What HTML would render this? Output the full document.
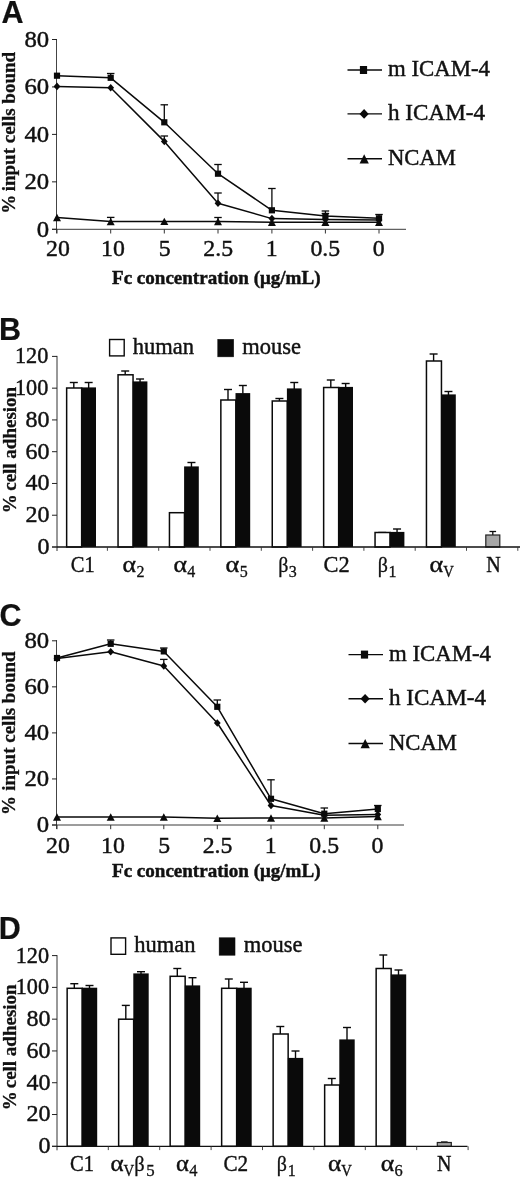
<!DOCTYPE html>
<html lang="en">
<head>
<meta charset="utf-8">
<title>Figure</title>
<style>
html,body{margin:0;padding:0;background:#fff;}
body{width:520px;height:1180px;overflow:hidden;}
svg{display:block;}
text{fill:#111;stroke:#111;stroke-width:0.45px;}
</style>
</head>
<body>
<svg width="520" height="1180" viewBox="0 0 520 1180">
<rect x="0" y="0" width="520" height="1180" fill="#fff"/>
<text x="1.5" y="23" font-size="30.5" text-anchor="start" font-weight="bold" font-family='"Liberation Sans", sans-serif' style="stroke-width:0.2px">A</text>
<line x1="56.5" y1="39.0" x2="56.5" y2="233.3" stroke="#444" stroke-width="1.0" />
<line x1="52" y1="229.3" x2="406" y2="229.3" stroke="#3a3a3a" stroke-width="1.0" />
<line x1="52" y1="39.5" x2="57" y2="39.5" stroke="#222" stroke-width="1.0" />
<text transform="translate(49.2,46.7) scale(1.04,1)" x="0" y="0" font-size="23.8" text-anchor="end" font-weight="normal" font-family='"Liberation Serif", serif' >80</text>
<line x1="52" y1="86.95" x2="57" y2="86.95" stroke="#222" stroke-width="1.0" />
<text transform="translate(49.2,94.2) scale(1.04,1)" x="0" y="0" font-size="23.8" text-anchor="end" font-weight="normal" font-family='"Liberation Serif", serif' >60</text>
<line x1="52" y1="134.4" x2="57" y2="134.4" stroke="#222" stroke-width="1.0" />
<text transform="translate(49.2,141.6) scale(1.04,1)" x="0" y="0" font-size="23.8" text-anchor="end" font-weight="normal" font-family='"Liberation Serif", serif' >40</text>
<line x1="52" y1="181.85000000000002" x2="57" y2="181.85000000000002" stroke="#222" stroke-width="1.0" />
<text transform="translate(49.2,189.1) scale(1.04,1)" x="0" y="0" font-size="23.8" text-anchor="end" font-weight="normal" font-family='"Liberation Serif", serif' >20</text>
<line x1="52" y1="229.3" x2="57" y2="229.3" stroke="#222" stroke-width="1.0" />
<text transform="translate(49.2,236.5) scale(1.04,1)" x="0" y="0" font-size="23.8" text-anchor="end" font-weight="normal" font-family='"Liberation Serif", serif' >0</text>
<line x1="57" y1="229.3" x2="57" y2="233.5" stroke="#333" stroke-width="1.0" />
<text x="57.9" y="255.6" font-size="23.8" text-anchor="middle" font-weight="normal" font-family='"Liberation Serif", serif' >20</text>
<line x1="110.7" y1="229.3" x2="110.7" y2="233.5" stroke="#333" stroke-width="1.0" />
<text x="112.9" y="255.6" font-size="23.8" text-anchor="middle" font-weight="normal" font-family='"Liberation Serif", serif' >10</text>
<line x1="164.3" y1="229.3" x2="164.3" y2="233.5" stroke="#333" stroke-width="1.0" />
<text x="164.7" y="255.6" font-size="23.8" text-anchor="middle" font-weight="normal" font-family='"Liberation Serif", serif' >5</text>
<line x1="218" y1="229.3" x2="218" y2="233.5" stroke="#333" stroke-width="1.0" />
<text x="218.2" y="255.6" font-size="23.8" text-anchor="middle" font-weight="normal" font-family='"Liberation Serif", serif' >2.5</text>
<line x1="271.9" y1="229.3" x2="271.9" y2="233.5" stroke="#333" stroke-width="1.0" />
<text x="271.7" y="255.6" font-size="23.8" text-anchor="middle" font-weight="normal" font-family='"Liberation Serif", serif' >1</text>
<line x1="325.4" y1="229.3" x2="325.4" y2="233.5" stroke="#333" stroke-width="1.0" />
<text x="325.3" y="255.6" font-size="23.8" text-anchor="middle" font-weight="normal" font-family='"Liberation Serif", serif' >0.5</text>
<line x1="379" y1="229.3" x2="379" y2="233.5" stroke="#333" stroke-width="1.0" />
<text x="378.6" y="255.6" font-size="23.8" text-anchor="middle" font-weight="normal" font-family='"Liberation Serif", serif' >0</text>
<text x="112" y="284" font-size="19" text-anchor="start" font-weight="bold" font-family='"Liberation Serif", serif' textLength="208.5" lengthAdjust="spacingAndGlyphs" >Fc concentration (μg/mL)</text>
<text transform="translate(15.0,213.8) rotate(-90)" font-size="19" font-weight="bold" font-family='"Liberation Serif", serif' style="stroke-width:0.3px" x="0" y="0">%</text>
<text transform="translate(15.0,191.3) rotate(-90)" font-size="19" font-weight="bold" font-family='"Liberation Serif", serif' style="stroke-width:0.3px" x="0" y="0">input cells bound</text>
<line x1="110.7" y1="77.8" x2="110.7" y2="73.5" stroke="#0a0a0a" stroke-width="1.3" />
<line x1="106.95" y1="73.5" x2="114.45" y2="73.5" stroke="#0a0a0a" stroke-width="1.3" />
<line x1="164.3" y1="122.3" x2="164.3" y2="104.8" stroke="#0a0a0a" stroke-width="1.3" />
<line x1="160.55" y1="104.8" x2="168.05" y2="104.8" stroke="#0a0a0a" stroke-width="1.3" />
<line x1="218" y1="173.7" x2="218" y2="164.5" stroke="#0a0a0a" stroke-width="1.3" />
<line x1="214.25" y1="164.5" x2="221.75" y2="164.5" stroke="#0a0a0a" stroke-width="1.3" />
<line x1="271.9" y1="210.3" x2="271.9" y2="188.5" stroke="#0a0a0a" stroke-width="1.3" />
<line x1="268.15" y1="188.5" x2="275.65" y2="188.5" stroke="#0a0a0a" stroke-width="1.3" />
<line x1="325.4" y1="216" x2="325.4" y2="211" stroke="#0a0a0a" stroke-width="1.3" />
<line x1="321.65" y1="211" x2="329.15" y2="211" stroke="#0a0a0a" stroke-width="1.3" />
<line x1="379" y1="218" x2="379" y2="214.5" stroke="#0a0a0a" stroke-width="1.3" />
<line x1="375.25" y1="214.5" x2="382.75" y2="214.5" stroke="#0a0a0a" stroke-width="1.3" />
<line x1="164.3" y1="141.4" x2="164.3" y2="136" stroke="#0a0a0a" stroke-width="1.3" />
<line x1="160.55" y1="136" x2="168.05" y2="136" stroke="#0a0a0a" stroke-width="1.3" />
<line x1="218" y1="203.2" x2="218" y2="193" stroke="#0a0a0a" stroke-width="1.3" />
<line x1="214.25" y1="193" x2="221.75" y2="193" stroke="#0a0a0a" stroke-width="1.3" />
<line x1="110.7" y1="221.6" x2="110.7" y2="217.4" stroke="#0a0a0a" stroke-width="1.3" />
<line x1="106.95" y1="217.4" x2="114.45" y2="217.4" stroke="#0a0a0a" stroke-width="1.3" />
<line x1="218" y1="221.5" x2="218" y2="217.5" stroke="#0a0a0a" stroke-width="1.3" />
<line x1="214.25" y1="217.5" x2="221.75" y2="217.5" stroke="#0a0a0a" stroke-width="1.3" />
<line x1="325.4" y1="219.5" x2="325.4" y2="213.5" stroke="#0a0a0a" stroke-width="1.3" />
<line x1="321.65" y1="213.5" x2="329.15" y2="213.5" stroke="#0a0a0a" stroke-width="1.3" />
<polyline points="57.00,75.70 110.70,77.80 164.30,122.30 218.00,173.70 271.90,210.30 325.40,216.00 379.00,218.30" fill="none" stroke="#0a0a0a" stroke-width="1.5" stroke-linejoin="round"/>
<polyline points="57.00,86.40 110.70,87.80 164.30,141.40 218.00,203.20 271.90,218.60 325.40,219.50 379.00,220.00" fill="none" stroke="#0a0a0a" stroke-width="1.5" stroke-linejoin="round"/>
<polyline points="57.00,217.50 110.70,221.60 164.30,221.40 218.00,221.50 271.90,222.30 325.40,222.30 379.00,222.30" fill="none" stroke="#0a0a0a" stroke-width="1.5" stroke-linejoin="round"/>
<rect x="53.90" y="72.60" width="6.2" height="6.2" fill="#0a0a0a"/>
<rect x="107.60" y="74.70" width="6.2" height="6.2" fill="#0a0a0a"/>
<rect x="161.20" y="119.20" width="6.2" height="6.2" fill="#0a0a0a"/>
<rect x="214.90" y="170.60" width="6.2" height="6.2" fill="#0a0a0a"/>
<rect x="268.80" y="207.20" width="6.2" height="6.2" fill="#0a0a0a"/>
<rect x="322.30" y="212.90" width="6.2" height="6.2" fill="#0a0a0a"/>
<rect x="375.90" y="215.20" width="6.2" height="6.2" fill="#0a0a0a"/>
<polygon points="57.00,82.60 60.40,86.40 57.00,90.20 53.60,86.40" fill="#0a0a0a"/>
<polygon points="110.70,84.00 114.10,87.80 110.70,91.60 107.30,87.80" fill="#0a0a0a"/>
<polygon points="164.30,137.60 167.70,141.40 164.30,145.20 160.90,141.40" fill="#0a0a0a"/>
<polygon points="218.00,199.40 221.40,203.20 218.00,207.00 214.60,203.20" fill="#0a0a0a"/>
<polygon points="271.90,214.80 275.30,218.60 271.90,222.40 268.50,218.60" fill="#0a0a0a"/>
<polygon points="325.40,215.70 328.80,219.50 325.40,223.30 322.00,219.50" fill="#0a0a0a"/>
<polygon points="379.00,216.20 382.40,220.00 379.00,223.80 375.60,220.00" fill="#0a0a0a"/>
<polygon points="57.00,213.80 61.00,221.20 53.00,221.20" fill="#0a0a0a"/>
<polygon points="110.70,217.90 114.70,225.30 106.70,225.30" fill="#0a0a0a"/>
<polygon points="164.30,217.70 168.30,225.10 160.30,225.10" fill="#0a0a0a"/>
<polygon points="218.00,217.80 222.00,225.20 214.00,225.20" fill="#0a0a0a"/>
<polygon points="271.90,218.60 275.90,226.00 267.90,226.00" fill="#0a0a0a"/>
<polygon points="325.40,218.60 329.40,226.00 321.40,226.00" fill="#0a0a0a"/>
<polygon points="379.00,218.60 383.00,226.00 375.00,226.00" fill="#0a0a0a"/>
<line x1="347.5" y1="70" x2="382" y2="70" stroke="#0a0a0a" stroke-width="1.4" />
<rect x="359.90" y="66.00" width="7.2" height="8" fill="#0a0a0a"/>
<text x="388" y="76.1" font-size="22.5" text-anchor="start" font-weight="normal" font-family='"Liberation Serif", serif' textLength="102" lengthAdjust="spacingAndGlyphs" >m ICAM-4</text>
<line x1="347.5" y1="113.9" x2="382" y2="113.9" stroke="#0a0a0a" stroke-width="1.4" />
<polygon points="364.10,109.10 368.70,113.90 364.10,118.70 359.50,113.90" fill="#0a0a0a"/>
<text x="388" y="120.0" font-size="22.5" text-anchor="start" font-weight="normal" font-family='"Liberation Serif", serif' textLength="97" lengthAdjust="spacingAndGlyphs" >h ICAM-4</text>
<line x1="347.5" y1="158.7" x2="382" y2="158.7" stroke="#0a0a0a" stroke-width="1.4" />
<polygon points="364.20,154.30 368.80,163.50 359.60,163.50" fill="#0a0a0a"/>
<text x="388" y="164.8" font-size="22.5" text-anchor="start" font-weight="normal" font-family='"Liberation Serif", serif' textLength="68" lengthAdjust="spacingAndGlyphs" >NCAM</text>
<text x="-0.5" y="626.3" font-size="30.5" text-anchor="start" font-weight="bold" font-family='"Liberation Sans", sans-serif' style="stroke-width:0.2px">C</text>
<line x1="56.5" y1="640.3" x2="56.5" y2="829" stroke="#444" stroke-width="1.0" />
<line x1="52" y1="825" x2="404" y2="825" stroke="#3a3a3a" stroke-width="1.0" />
<line x1="52" y1="640.8" x2="57" y2="640.8" stroke="#222" stroke-width="1.0" />
<text transform="translate(49.2,648.0) scale(1.04,1)" x="0" y="0" font-size="23.8" text-anchor="end" font-weight="normal" font-family='"Liberation Serif", serif' >80</text>
<line x1="52" y1="686.8499999999999" x2="57" y2="686.8499999999999" stroke="#222" stroke-width="1.0" />
<text transform="translate(49.2,694.0) scale(1.04,1)" x="0" y="0" font-size="23.8" text-anchor="end" font-weight="normal" font-family='"Liberation Serif", serif' >60</text>
<line x1="52" y1="732.9" x2="57" y2="732.9" stroke="#222" stroke-width="1.0" />
<text transform="translate(49.2,740.1) scale(1.04,1)" x="0" y="0" font-size="23.8" text-anchor="end" font-weight="normal" font-family='"Liberation Serif", serif' >40</text>
<line x1="52" y1="778.95" x2="57" y2="778.95" stroke="#222" stroke-width="1.0" />
<text transform="translate(49.2,786.2) scale(1.04,1)" x="0" y="0" font-size="23.8" text-anchor="end" font-weight="normal" font-family='"Liberation Serif", serif' >20</text>
<line x1="52" y1="825.0" x2="57" y2="825.0" stroke="#222" stroke-width="1.0" />
<text transform="translate(49.2,832.2) scale(1.04,1)" x="0" y="0" font-size="23.8" text-anchor="end" font-weight="normal" font-family='"Liberation Serif", serif' >0</text>
<line x1="57" y1="825" x2="57" y2="829.2" stroke="#333" stroke-width="1.0" />
<text x="57.9" y="853.4" font-size="23.8" text-anchor="middle" font-weight="normal" font-family='"Liberation Serif", serif' >20</text>
<line x1="110.7" y1="825" x2="110.7" y2="829.2" stroke="#333" stroke-width="1.0" />
<text x="112.9" y="853.4" font-size="23.8" text-anchor="middle" font-weight="normal" font-family='"Liberation Serif", serif' >10</text>
<line x1="163.8" y1="825" x2="163.8" y2="829.2" stroke="#333" stroke-width="1.0" />
<text x="164.2" y="853.4" font-size="23.8" text-anchor="middle" font-weight="normal" font-family='"Liberation Serif", serif' >5</text>
<line x1="217.3" y1="825" x2="217.3" y2="829.2" stroke="#333" stroke-width="1.0" />
<text x="217.5" y="853.4" font-size="23.8" text-anchor="middle" font-weight="normal" font-family='"Liberation Serif", serif' >2.5</text>
<line x1="271" y1="825" x2="271" y2="829.2" stroke="#333" stroke-width="1.0" />
<text x="270.8" y="853.4" font-size="23.8" text-anchor="middle" font-weight="normal" font-family='"Liberation Serif", serif' >1</text>
<line x1="324.3" y1="825" x2="324.3" y2="829.2" stroke="#333" stroke-width="1.0" />
<text x="324.2" y="853.4" font-size="23.8" text-anchor="middle" font-weight="normal" font-family='"Liberation Serif", serif' >0.5</text>
<line x1="377.8" y1="825" x2="377.8" y2="829.2" stroke="#333" stroke-width="1.0" />
<text x="377.4" y="853.4" font-size="23.8" text-anchor="middle" font-weight="normal" font-family='"Liberation Serif", serif' >0</text>
<text x="112" y="877" font-size="19" text-anchor="start" font-weight="bold" font-family='"Liberation Serif", serif' textLength="208.5" lengthAdjust="spacingAndGlyphs" >Fc concentration (μg/mL)</text>
<text transform="translate(15.1,815) rotate(-90)" font-size="19" font-weight="bold" font-family='"Liberation Serif", serif' style="stroke-width:0.3px" x="0" y="0">%</text>
<text transform="translate(15.1,790.8) rotate(-90)" font-size="19" font-weight="bold" font-family='"Liberation Serif", serif' style="stroke-width:0.3px" x="0" y="0">input cells bound</text>
<line x1="110.7" y1="643.8" x2="110.7" y2="640" stroke="#0a0a0a" stroke-width="1.3" />
<line x1="106.95" y1="640" x2="114.45" y2="640" stroke="#0a0a0a" stroke-width="1.3" />
<line x1="163.8" y1="651.4" x2="163.8" y2="648" stroke="#0a0a0a" stroke-width="1.3" />
<line x1="160.05" y1="648" x2="167.55" y2="648" stroke="#0a0a0a" stroke-width="1.3" />
<line x1="163.8" y1="666" x2="163.8" y2="659.4" stroke="#0a0a0a" stroke-width="1.3" />
<line x1="160.05" y1="659.4" x2="167.55" y2="659.4" stroke="#0a0a0a" stroke-width="1.3" />
<line x1="217.3" y1="706.8" x2="217.3" y2="700" stroke="#0a0a0a" stroke-width="1.3" />
<line x1="213.55" y1="700" x2="221.05" y2="700" stroke="#0a0a0a" stroke-width="1.3" />
<line x1="271" y1="798.8" x2="271" y2="779.8" stroke="#0a0a0a" stroke-width="1.3" />
<line x1="267.25" y1="779.8" x2="274.75" y2="779.8" stroke="#0a0a0a" stroke-width="1.3" />
<line x1="324.3" y1="813.7" x2="324.3" y2="808" stroke="#0a0a0a" stroke-width="1.3" />
<line x1="320.55" y1="808" x2="328.05" y2="808" stroke="#0a0a0a" stroke-width="1.3" />
<line x1="377.8" y1="809" x2="377.8" y2="805.5" stroke="#0a0a0a" stroke-width="1.3" />
<line x1="374.05" y1="805.5" x2="381.55" y2="805.5" stroke="#0a0a0a" stroke-width="1.3" />
<polyline points="57.00,658.00 110.70,643.80 163.80,651.40 217.30,706.80 271.00,798.80 324.30,813.70 377.80,809.00" fill="none" stroke="#0a0a0a" stroke-width="1.5" stroke-linejoin="round"/>
<polyline points="57.00,658.50 110.70,651.80 163.80,666.00 217.30,723.00 271.00,805.50 324.30,815.30 377.80,814.40" fill="none" stroke="#0a0a0a" stroke-width="1.5" stroke-linejoin="round"/>
<polyline points="57.00,817.00 110.70,817.00 163.80,817.00 217.30,818.30 271.00,818.00 324.30,818.00 377.80,816.50" fill="none" stroke="#0a0a0a" stroke-width="1.5" stroke-linejoin="round"/>
<rect x="53.90" y="654.90" width="6.2" height="6.2" fill="#0a0a0a"/>
<rect x="107.60" y="640.70" width="6.2" height="6.2" fill="#0a0a0a"/>
<rect x="160.70" y="648.30" width="6.2" height="6.2" fill="#0a0a0a"/>
<rect x="214.20" y="703.70" width="6.2" height="6.2" fill="#0a0a0a"/>
<rect x="267.90" y="795.70" width="6.2" height="6.2" fill="#0a0a0a"/>
<rect x="321.20" y="810.60" width="6.2" height="6.2" fill="#0a0a0a"/>
<rect x="374.70" y="805.90" width="6.2" height="6.2" fill="#0a0a0a"/>
<polygon points="57.00,654.70 60.40,658.50 57.00,662.30 53.60,658.50" fill="#0a0a0a"/>
<polygon points="110.70,648.00 114.10,651.80 110.70,655.60 107.30,651.80" fill="#0a0a0a"/>
<polygon points="163.80,662.20 167.20,666.00 163.80,669.80 160.40,666.00" fill="#0a0a0a"/>
<polygon points="217.30,719.20 220.70,723.00 217.30,726.80 213.90,723.00" fill="#0a0a0a"/>
<polygon points="271.00,801.70 274.40,805.50 271.00,809.30 267.60,805.50" fill="#0a0a0a"/>
<polygon points="324.30,811.50 327.70,815.30 324.30,819.10 320.90,815.30" fill="#0a0a0a"/>
<polygon points="377.80,810.60 381.20,814.40 377.80,818.20 374.40,814.40" fill="#0a0a0a"/>
<polygon points="57.00,813.30 61.00,820.70 53.00,820.70" fill="#0a0a0a"/>
<polygon points="110.70,813.30 114.70,820.70 106.70,820.70" fill="#0a0a0a"/>
<polygon points="163.80,813.30 167.80,820.70 159.80,820.70" fill="#0a0a0a"/>
<polygon points="217.30,814.60 221.30,822.00 213.30,822.00" fill="#0a0a0a"/>
<polygon points="271.00,814.30 275.00,821.70 267.00,821.70" fill="#0a0a0a"/>
<polygon points="324.30,814.30 328.30,821.70 320.30,821.70" fill="#0a0a0a"/>
<polygon points="377.80,812.80 381.80,820.20 373.80,820.20" fill="#0a0a0a"/>
<line x1="348.5" y1="654.6" x2="383" y2="654.6" stroke="#0a0a0a" stroke-width="1.4" />
<rect x="360.90" y="650.60" width="7.2" height="8" fill="#0a0a0a"/>
<text x="389" y="660.7" font-size="22.5" text-anchor="start" font-weight="normal" font-family='"Liberation Serif", serif' textLength="102" lengthAdjust="spacingAndGlyphs" >m ICAM-4</text>
<line x1="348.5" y1="698.7" x2="383" y2="698.7" stroke="#0a0a0a" stroke-width="1.4" />
<polygon points="365.10,693.90 369.70,698.70 365.10,703.50 360.50,698.70" fill="#0a0a0a"/>
<text x="389" y="704.8" font-size="22.5" text-anchor="start" font-weight="normal" font-family='"Liberation Serif", serif' textLength="97" lengthAdjust="spacingAndGlyphs" >h ICAM-4</text>
<line x1="348.5" y1="743.5" x2="383" y2="743.5" stroke="#0a0a0a" stroke-width="1.4" />
<polygon points="365.20,739.10 369.80,748.30 360.60,748.30" fill="#0a0a0a"/>
<text x="389" y="749.6" font-size="22.5" text-anchor="start" font-weight="normal" font-family='"Liberation Serif", serif' textLength="68" lengthAdjust="spacingAndGlyphs" >NCAM</text>
<text x="-1" y="339.6" font-size="30.5" text-anchor="start" font-weight="bold" font-family='"Liberation Sans", sans-serif' style="stroke-width:0.2px">B</text>
<line x1="73.8" y1="388" x2="73.8" y2="382.5" stroke="#0a0a0a" stroke-width="1.4" />
<line x1="69.8" y1="382.5" x2="77.8" y2="382.5" stroke="#0a0a0a" stroke-width="1.4" />
<line x1="88.64999999999999" y1="388" x2="88.64999999999999" y2="382.5" stroke="#0a0a0a" stroke-width="1.4" />
<line x1="84.64999999999999" y1="382.5" x2="92.64999999999999" y2="382.5" stroke="#0a0a0a" stroke-width="1.4" />
<rect x="66.64999999999999" y="388" width="15" height="159.0" fill="#fff" stroke="#0a0a0a" stroke-width="1.5"/>
<rect x="81.30" y="387.40" width="14.7" height="159.60" fill="#0a0a0a"/>
<line x1="125.19999999999999" y1="374.8" x2="125.19999999999999" y2="371" stroke="#0a0a0a" stroke-width="1.4" />
<line x1="121.19999999999999" y1="371" x2="129.2" y2="371" stroke="#0a0a0a" stroke-width="1.4" />
<line x1="140.04999999999998" y1="382" x2="140.04999999999998" y2="379" stroke="#0a0a0a" stroke-width="1.4" />
<line x1="136.04999999999998" y1="379" x2="144.04999999999998" y2="379" stroke="#0a0a0a" stroke-width="1.4" />
<rect x="118.04999999999998" y="374.8" width="15" height="172.2" fill="#fff" stroke="#0a0a0a" stroke-width="1.5"/>
<rect x="132.70" y="381.40" width="14.7" height="165.60" fill="#0a0a0a"/>
<line x1="176.6" y1="512.7" x2="176.6" y2="512.7" stroke="#0a0a0a" stroke-width="1.4" />
<line x1="172.6" y1="512.7" x2="180.6" y2="512.7" stroke="#0a0a0a" stroke-width="1.4" />
<line x1="191.45" y1="467" x2="191.45" y2="462.5" stroke="#0a0a0a" stroke-width="1.4" />
<line x1="187.45" y1="462.5" x2="195.45" y2="462.5" stroke="#0a0a0a" stroke-width="1.4" />
<rect x="169.45" y="512.7" width="15" height="34.299999999999955" fill="#fff" stroke="#0a0a0a" stroke-width="1.5"/>
<rect x="184.10" y="466.40" width="14.7" height="80.60" fill="#0a0a0a"/>
<line x1="228.0" y1="400" x2="228.0" y2="389.5" stroke="#0a0a0a" stroke-width="1.4" />
<line x1="224.0" y1="389.5" x2="232.0" y2="389.5" stroke="#0a0a0a" stroke-width="1.4" />
<line x1="242.85" y1="393.7" x2="242.85" y2="385.5" stroke="#0a0a0a" stroke-width="1.4" />
<line x1="238.85" y1="385.5" x2="246.85" y2="385.5" stroke="#0a0a0a" stroke-width="1.4" />
<rect x="220.85" y="400" width="15" height="147.0" fill="#fff" stroke="#0a0a0a" stroke-width="1.5"/>
<rect x="235.50" y="393.10" width="14.7" height="153.90" fill="#0a0a0a"/>
<line x1="279.4" y1="401" x2="279.4" y2="398.5" stroke="#0a0a0a" stroke-width="1.4" />
<line x1="275.4" y1="398.5" x2="283.4" y2="398.5" stroke="#0a0a0a" stroke-width="1.4" />
<line x1="294.25" y1="389" x2="294.25" y2="382.5" stroke="#0a0a0a" stroke-width="1.4" />
<line x1="290.25" y1="382.5" x2="298.25" y2="382.5" stroke="#0a0a0a" stroke-width="1.4" />
<rect x="272.25" y="401" width="15" height="146.0" fill="#fff" stroke="#0a0a0a" stroke-width="1.5"/>
<rect x="286.90" y="388.40" width="14.7" height="158.60" fill="#0a0a0a"/>
<line x1="330.8" y1="387.5" x2="330.8" y2="380" stroke="#0a0a0a" stroke-width="1.4" />
<line x1="326.8" y1="380" x2="334.8" y2="380" stroke="#0a0a0a" stroke-width="1.4" />
<line x1="345.65000000000003" y1="387.5" x2="345.65000000000003" y2="383.5" stroke="#0a0a0a" stroke-width="1.4" />
<line x1="341.65000000000003" y1="383.5" x2="349.65000000000003" y2="383.5" stroke="#0a0a0a" stroke-width="1.4" />
<rect x="323.65000000000003" y="387.5" width="15" height="159.5" fill="#fff" stroke="#0a0a0a" stroke-width="1.5"/>
<rect x="338.30" y="386.90" width="14.7" height="160.10" fill="#0a0a0a"/>
<line x1="382.2" y1="532.5" x2="382.2" y2="532.5" stroke="#0a0a0a" stroke-width="1.4" />
<line x1="378.2" y1="532.5" x2="386.2" y2="532.5" stroke="#0a0a0a" stroke-width="1.4" />
<line x1="397.05" y1="532.5" x2="397.05" y2="529" stroke="#0a0a0a" stroke-width="1.4" />
<line x1="393.05" y1="529" x2="401.05" y2="529" stroke="#0a0a0a" stroke-width="1.4" />
<rect x="375.05" y="532.5" width="15" height="14.5" fill="#fff" stroke="#0a0a0a" stroke-width="1.5"/>
<rect x="389.70" y="531.90" width="14.7" height="15.10" fill="#0a0a0a"/>
<line x1="433.6" y1="361" x2="433.6" y2="354" stroke="#0a0a0a" stroke-width="1.4" />
<line x1="429.6" y1="354" x2="437.6" y2="354" stroke="#0a0a0a" stroke-width="1.4" />
<line x1="448.45000000000005" y1="395" x2="448.45000000000005" y2="391.5" stroke="#0a0a0a" stroke-width="1.4" />
<line x1="444.45000000000005" y1="391.5" x2="452.45000000000005" y2="391.5" stroke="#0a0a0a" stroke-width="1.4" />
<rect x="426.45000000000005" y="361" width="15" height="186.0" fill="#fff" stroke="#0a0a0a" stroke-width="1.5"/>
<rect x="441.10" y="394.40" width="14.7" height="152.60" fill="#0a0a0a"/>
<line x1="492.8" y1="535" x2="492.8" y2="531.5" stroke="#0a0a0a" stroke-width="1.3" />
<line x1="489.5" y1="531.5" x2="496.1" y2="531.5" stroke="#0a0a0a" stroke-width="1.3" />
<rect x="485.8" y="535" width="14.0" height="12.0" fill="#a6a6a6" stroke="#222" stroke-width="1.2"/>
<line x1="57" y1="355.9" x2="57" y2="551.0" stroke="#333" stroke-width="1.0" />
<line x1="52" y1="547.0" x2="57" y2="547.0" stroke="#222" stroke-width="1.0" />
<line x1="57" y1="547.0" x2="520" y2="547.0" stroke="#111" stroke-width="1.3" />
<line x1="52" y1="356.4" x2="57" y2="356.4" stroke="#222" stroke-width="1.0" />
<text transform="translate(48.300000000000004,363.3) scale(0.935,1)" x="0" y="0" font-size="23.8" text-anchor="end" font-weight="normal" font-family='"Liberation Serif", serif' >120</text>
<line x1="52" y1="388.16666666666663" x2="57" y2="388.16666666666663" stroke="#222" stroke-width="1.0" />
<text transform="translate(48.300000000000004,395.1) scale(0.935,1)" x="0" y="0" font-size="23.8" text-anchor="end" font-weight="normal" font-family='"Liberation Serif", serif' >100</text>
<line x1="52" y1="419.93333333333334" x2="57" y2="419.93333333333334" stroke="#222" stroke-width="1.0" />
<text transform="translate(49.6,426.8) scale(1.01,1)" x="0" y="0" font-size="23.8" text-anchor="end" font-weight="normal" font-family='"Liberation Serif", serif' >80</text>
<line x1="52" y1="451.7" x2="57" y2="451.7" stroke="#222" stroke-width="1.0" />
<text transform="translate(49.6,458.6) scale(1.01,1)" x="0" y="0" font-size="23.8" text-anchor="end" font-weight="normal" font-family='"Liberation Serif", serif' >60</text>
<line x1="52" y1="483.46666666666664" x2="57" y2="483.46666666666664" stroke="#222" stroke-width="1.0" />
<text transform="translate(49.6,490.4) scale(1.01,1)" x="0" y="0" font-size="23.8" text-anchor="end" font-weight="normal" font-family='"Liberation Serif", serif' >40</text>
<line x1="52" y1="515.2333333333333" x2="57" y2="515.2333333333333" stroke="#222" stroke-width="1.0" />
<text transform="translate(49.6,522.1) scale(1.01,1)" x="0" y="0" font-size="23.8" text-anchor="end" font-weight="normal" font-family='"Liberation Serif", serif' >20</text>
<line x1="52" y1="547.0" x2="57" y2="547.0" stroke="#222" stroke-width="1.0" />
<text transform="translate(49.6,553.9) scale(1.01,1)" x="0" y="0" font-size="23.8" text-anchor="end" font-weight="normal" font-family='"Liberation Serif", serif' >0</text>
<line x1="107.4" y1="547.0" x2="107.4" y2="550.8" stroke="#333" stroke-width="0.9" />
<line x1="158.7" y1="547.0" x2="158.7" y2="550.8" stroke="#333" stroke-width="0.9" />
<line x1="209.99999999999997" y1="547.0" x2="209.99999999999997" y2="550.8" stroke="#333" stroke-width="0.9" />
<line x1="261.3" y1="547.0" x2="261.3" y2="550.8" stroke="#333" stroke-width="0.9" />
<line x1="312.6" y1="547.0" x2="312.6" y2="550.8" stroke="#333" stroke-width="0.9" />
<line x1="363.9" y1="547.0" x2="363.9" y2="550.8" stroke="#333" stroke-width="0.9" />
<line x1="415.2" y1="547.0" x2="415.2" y2="550.8" stroke="#333" stroke-width="0.9" />
<line x1="466.5" y1="547.0" x2="466.5" y2="550.8" stroke="#333" stroke-width="0.9" />
<line x1="517.8" y1="547.0" x2="517.8" y2="550.8" stroke="#333" stroke-width="0.9" />
<text transform="translate(15.8,513.2) rotate(-90)" font-size="19" font-weight="bold" font-family='"Liberation Serif", serif' style="stroke-width:0.3px" x="0" y="0">%</text>
<text transform="translate(15.8,490.8) rotate(-90)" font-size="19" font-weight="bold" font-family='"Liberation Serif", serif' style="stroke-width:0.3px" x="0" y="0">cell adhesion</text>
<rect x="109.6" y="339.5" width="14.6" height="16.4" fill="#fff" stroke="#0a0a0a" stroke-width="1.4"/>
<text x="132.8" y="353.6" font-size="23.5" text-anchor="start" font-weight="normal" font-family='"Liberation Serif", serif' textLength="61.3" lengthAdjust="spacingAndGlyphs" >human</text>
<rect x="217.8" y="339.4" width="15.8" height="17.4" fill="#0a0a0a" stroke="#0a0a0a" stroke-width="0.6"/>
<text x="242.3" y="353.6" font-size="23.5" text-anchor="start" font-weight="normal" font-family='"Liberation Serif", serif' textLength="58.7" lengthAdjust="spacingAndGlyphs" >mouse</text>
<text x="70.8" y="571.5" font-size="23.2" font-family='"Liberation Serif", serif' style="stroke-width:0.4px" textLength="24.0" lengthAdjust="spacingAndGlyphs">C1</text>
<text x="122.5" y="571.5" font-size="23" font-family='"Liberation Serif", serif' style="stroke-width:0.4px" textLength="13.5" lengthAdjust="spacingAndGlyphs">α</text>
<text x="136.4" y="576.8" font-size="16" font-family='"Liberation Serif", serif' style="stroke-width:0.3px" textLength="8.0" lengthAdjust="spacingAndGlyphs">2</text>
<text x="173.5" y="571.5" font-size="23" font-family='"Liberation Serif", serif' style="stroke-width:0.4px" textLength="13.5" lengthAdjust="spacingAndGlyphs">α</text>
<text x="187.2" y="576.8" font-size="16" font-family='"Liberation Serif", serif' style="stroke-width:0.3px" textLength="8.0" lengthAdjust="spacingAndGlyphs">4</text>
<text x="225.4" y="571.5" font-size="23" font-family='"Liberation Serif", serif' style="stroke-width:0.4px" textLength="13.8" lengthAdjust="spacingAndGlyphs">α</text>
<text x="239.8" y="576.8" font-size="16" font-family='"Liberation Serif", serif' style="stroke-width:0.3px" textLength="8.0" lengthAdjust="spacingAndGlyphs">5</text>
<text x="278.3" y="571.5" font-size="20.3" font-family='"Liberation Serif", serif' style="stroke-width:0.3px" textLength="10.2" lengthAdjust="spacingAndGlyphs">β</text>
<text x="288.8" y="576.8" font-size="16" font-family='"Liberation Serif", serif' style="stroke-width:0.3px" textLength="8.0" lengthAdjust="spacingAndGlyphs">3</text>
<text x="323.5" y="571.5" font-size="23.2" font-family='"Liberation Serif", serif' style="stroke-width:0.4px" textLength="26.1" lengthAdjust="spacingAndGlyphs">C2</text>
<text x="377.7" y="571.5" font-size="20.3" font-family='"Liberation Serif", serif' style="stroke-width:0.3px" textLength="10.2" lengthAdjust="spacingAndGlyphs">β</text>
<text x="388.4" y="576.8" font-size="16" font-family='"Liberation Serif", serif' style="stroke-width:0.3px">1</text>
<text x="429.6" y="571.5" font-size="23" font-family='"Liberation Serif", serif' style="stroke-width:0.4px" textLength="13.7" lengthAdjust="spacingAndGlyphs">α</text>
<text x="443.3" y="576.8" font-size="16" font-family='"Liberation Serif", serif' style="stroke-width:0.3px" textLength="10.6" lengthAdjust="spacingAndGlyphs">V</text>
<text x="486.3" y="571.5" font-size="23.2" font-family='"Liberation Serif", serif' style="stroke-width:0.4px" textLength="14.5" lengthAdjust="spacingAndGlyphs">N</text>
<text x="-1.3" y="938.5" font-size="30.5" text-anchor="start" font-weight="bold" font-family='"Liberation Sans", sans-serif' style="stroke-width:0.2px">D</text>
<line x1="74.3" y1="988.3" x2="74.3" y2="983.7" stroke="#0a0a0a" stroke-width="1.4" />
<line x1="70.3" y1="983.7" x2="78.3" y2="983.7" stroke="#0a0a0a" stroke-width="1.4" />
<line x1="89.5" y1="988.3" x2="89.5" y2="985.5" stroke="#0a0a0a" stroke-width="1.4" />
<line x1="85.5" y1="985.5" x2="93.5" y2="985.5" stroke="#0a0a0a" stroke-width="1.4" />
<rect x="67.14999999999999" y="988.3" width="15" height="158.0" fill="#fff" stroke="#0a0a0a" stroke-width="1.5"/>
<rect x="81.80" y="987.70" width="15.4" height="158.60" fill="#0a0a0a"/>
<line x1="125.80000000000001" y1="1019.2" x2="125.80000000000001" y2="1005.4" stroke="#0a0a0a" stroke-width="1.4" />
<line x1="121.80000000000001" y1="1005.4" x2="129.8" y2="1005.4" stroke="#0a0a0a" stroke-width="1.4" />
<line x1="141.0" y1="974" x2="141.0" y2="971.7" stroke="#0a0a0a" stroke-width="1.4" />
<line x1="137.0" y1="971.7" x2="145.0" y2="971.7" stroke="#0a0a0a" stroke-width="1.4" />
<rect x="118.65" y="1019.2" width="15" height="127.09999999999991" fill="#fff" stroke="#0a0a0a" stroke-width="1.5"/>
<rect x="133.30" y="973.40" width="15.4" height="172.90" fill="#0a0a0a"/>
<line x1="177.3" y1="976.3" x2="177.3" y2="968.5" stroke="#0a0a0a" stroke-width="1.4" />
<line x1="173.3" y1="968.5" x2="181.3" y2="968.5" stroke="#0a0a0a" stroke-width="1.4" />
<line x1="192.5" y1="986" x2="192.5" y2="977.7" stroke="#0a0a0a" stroke-width="1.4" />
<line x1="188.5" y1="977.7" x2="196.5" y2="977.7" stroke="#0a0a0a" stroke-width="1.4" />
<rect x="170.15" y="976.3" width="15" height="170.0" fill="#fff" stroke="#0a0a0a" stroke-width="1.5"/>
<rect x="184.80" y="985.40" width="15.4" height="160.90" fill="#0a0a0a"/>
<line x1="228.8" y1="988.3" x2="228.8" y2="979" stroke="#0a0a0a" stroke-width="1.4" />
<line x1="224.8" y1="979" x2="232.8" y2="979" stroke="#0a0a0a" stroke-width="1.4" />
<line x1="244.0" y1="988.3" x2="244.0" y2="982.3" stroke="#0a0a0a" stroke-width="1.4" />
<line x1="240.0" y1="982.3" x2="248.0" y2="982.3" stroke="#0a0a0a" stroke-width="1.4" />
<rect x="221.65" y="988.3" width="15" height="158.0" fill="#fff" stroke="#0a0a0a" stroke-width="1.5"/>
<rect x="236.30" y="987.70" width="15.4" height="158.60" fill="#0a0a0a"/>
<line x1="280.3" y1="1034" x2="280.3" y2="1026.5" stroke="#0a0a0a" stroke-width="1.4" />
<line x1="276.3" y1="1026.5" x2="284.3" y2="1026.5" stroke="#0a0a0a" stroke-width="1.4" />
<line x1="295.5" y1="1058.5" x2="295.5" y2="1051" stroke="#0a0a0a" stroke-width="1.4" />
<line x1="291.5" y1="1051" x2="299.5" y2="1051" stroke="#0a0a0a" stroke-width="1.4" />
<rect x="273.15000000000003" y="1034" width="15" height="112.29999999999995" fill="#fff" stroke="#0a0a0a" stroke-width="1.5"/>
<rect x="287.80" y="1057.90" width="15.4" height="88.40" fill="#0a0a0a"/>
<line x1="331.8" y1="1085" x2="331.8" y2="1078.5" stroke="#0a0a0a" stroke-width="1.4" />
<line x1="327.8" y1="1078.5" x2="335.8" y2="1078.5" stroke="#0a0a0a" stroke-width="1.4" />
<line x1="347.0" y1="1040" x2="347.0" y2="1027.5" stroke="#0a0a0a" stroke-width="1.4" />
<line x1="343.0" y1="1027.5" x2="351.0" y2="1027.5" stroke="#0a0a0a" stroke-width="1.4" />
<rect x="324.65000000000003" y="1085" width="15" height="61.299999999999955" fill="#fff" stroke="#0a0a0a" stroke-width="1.5"/>
<rect x="339.30" y="1039.40" width="15.4" height="106.90" fill="#0a0a0a"/>
<line x1="383.3" y1="968.5" x2="383.3" y2="955" stroke="#0a0a0a" stroke-width="1.4" />
<line x1="379.3" y1="955" x2="387.3" y2="955" stroke="#0a0a0a" stroke-width="1.4" />
<line x1="398.5" y1="975" x2="398.5" y2="970" stroke="#0a0a0a" stroke-width="1.4" />
<line x1="394.5" y1="970" x2="402.5" y2="970" stroke="#0a0a0a" stroke-width="1.4" />
<rect x="376.15000000000003" y="968.5" width="15" height="177.79999999999995" fill="#fff" stroke="#0a0a0a" stroke-width="1.5"/>
<rect x="390.80" y="974.40" width="15.4" height="171.90" fill="#0a0a0a"/>
<line x1="444.3" y1="1142.5" x2="444.3" y2="1142" stroke="#0a0a0a" stroke-width="1.3" />
<line x1="441.0" y1="1142" x2="447.6" y2="1142" stroke="#0a0a0a" stroke-width="1.3" />
<rect x="437.3" y="1142.5" width="14.0" height="3.7999999999999545" fill="#a6a6a6" stroke="#222" stroke-width="1.2"/>
<line x1="57" y1="955.1" x2="57" y2="1150.3" stroke="#333" stroke-width="1.0" />
<line x1="52" y1="1146.3" x2="57" y2="1146.3" stroke="#222" stroke-width="1.0" />
<line x1="57" y1="1146.3" x2="467.5" y2="1146.3" stroke="#111" stroke-width="1.3" />
<line x1="52" y1="955.6" x2="57" y2="955.6" stroke="#222" stroke-width="1.0" />
<text transform="translate(49.1,962.5) scale(0.935,1)" x="0" y="0" font-size="23.8" text-anchor="end" font-weight="normal" font-family='"Liberation Serif", serif' >120</text>
<line x1="52" y1="987.3833333333333" x2="57" y2="987.3833333333333" stroke="#222" stroke-width="1.0" />
<text transform="translate(49.1,994.3) scale(0.935,1)" x="0" y="0" font-size="23.8" text-anchor="end" font-weight="normal" font-family='"Liberation Serif", serif' >100</text>
<line x1="52" y1="1019.1666666666666" x2="57" y2="1019.1666666666666" stroke="#222" stroke-width="1.0" />
<text transform="translate(50.4,1026.1) scale(1.01,1)" x="0" y="0" font-size="23.8" text-anchor="end" font-weight="normal" font-family='"Liberation Serif", serif' >80</text>
<line x1="52" y1="1050.95" x2="57" y2="1050.95" stroke="#222" stroke-width="1.0" />
<text transform="translate(50.4,1057.9) scale(1.01,1)" x="0" y="0" font-size="23.8" text-anchor="end" font-weight="normal" font-family='"Liberation Serif", serif' >60</text>
<line x1="52" y1="1082.7333333333333" x2="57" y2="1082.7333333333333" stroke="#222" stroke-width="1.0" />
<text transform="translate(50.4,1089.6) scale(1.01,1)" x="0" y="0" font-size="23.8" text-anchor="end" font-weight="normal" font-family='"Liberation Serif", serif' >40</text>
<line x1="52" y1="1114.5166666666667" x2="57" y2="1114.5166666666667" stroke="#222" stroke-width="1.0" />
<text transform="translate(50.4,1121.4) scale(1.01,1)" x="0" y="0" font-size="23.8" text-anchor="end" font-weight="normal" font-family='"Liberation Serif", serif' >20</text>
<line x1="52" y1="1146.3" x2="57" y2="1146.3" stroke="#222" stroke-width="1.0" />
<text transform="translate(50.4,1153.2) scale(1.01,1)" x="0" y="0" font-size="23.8" text-anchor="end" font-weight="normal" font-family='"Liberation Serif", serif' >0</text>
<line x1="108.3" y1="1146.3" x2="108.3" y2="1150.1" stroke="#333" stroke-width="0.9" />
<line x1="159.7" y1="1146.3" x2="159.7" y2="1150.1" stroke="#333" stroke-width="0.9" />
<line x1="211.1" y1="1146.3" x2="211.1" y2="1150.1" stroke="#333" stroke-width="0.9" />
<line x1="262.5" y1="1146.3" x2="262.5" y2="1150.1" stroke="#333" stroke-width="0.9" />
<line x1="313.9" y1="1146.3" x2="313.9" y2="1150.1" stroke="#333" stroke-width="0.9" />
<line x1="365.29999999999995" y1="1146.3" x2="365.29999999999995" y2="1150.1" stroke="#333" stroke-width="0.9" />
<line x1="416.7" y1="1146.3" x2="416.7" y2="1150.1" stroke="#333" stroke-width="0.9" />
<line x1="468.09999999999997" y1="1146.3" x2="468.09999999999997" y2="1150.1" stroke="#333" stroke-width="0.9" />
<text transform="translate(16.2,1110.3) rotate(-90)" font-size="19" font-weight="bold" font-family='"Liberation Serif", serif' style="stroke-width:0.3px" x="0" y="0">%</text>
<text transform="translate(16.2,1088.3) rotate(-90)" font-size="19" font-weight="bold" font-family='"Liberation Serif", serif' style="stroke-width:0.3px" x="0" y="0">cell adhesion</text>
<rect x="111.0" y="937.9" width="14.6" height="16.4" fill="#fff" stroke="#0a0a0a" stroke-width="1.4"/>
<text x="134.20000000000002" y="952.0" font-size="23.5" text-anchor="start" font-weight="normal" font-family='"Liberation Serif", serif' textLength="61.3" lengthAdjust="spacingAndGlyphs" >human</text>
<rect x="219.20000000000002" y="937.8" width="15.8" height="17.4" fill="#0a0a0a" stroke="#0a0a0a" stroke-width="0.6"/>
<text x="243.70000000000002" y="952.0" font-size="23.5" text-anchor="start" font-weight="normal" font-family='"Liberation Serif", serif' textLength="58.7" lengthAdjust="spacingAndGlyphs" >mouse</text>
<text x="70" y="1171.0" font-size="23.2" font-family='"Liberation Serif", serif' style="stroke-width:0.4px" textLength="24.0" lengthAdjust="spacingAndGlyphs">C1</text>
<text x="110.4" y="1171.0" font-size="23" font-family='"Liberation Serif", serif' style="stroke-width:0.4px" textLength="13.1" lengthAdjust="spacingAndGlyphs">α</text>
<text x="123.5" y="1176.3" font-size="16" font-family='"Liberation Serif", serif' style="stroke-width:0.3px" textLength="10.7" lengthAdjust="spacingAndGlyphs">V</text>
<text x="134.2" y="1171.0" font-size="20.3" font-family='"Liberation Serif", serif' style="stroke-width:0.3px" textLength="10.4" lengthAdjust="spacingAndGlyphs">β</text>
<text x="146.3" y="1176.3" font-size="16" font-family='"Liberation Serif", serif' style="stroke-width:0.3px" textLength="8.4" lengthAdjust="spacingAndGlyphs">5</text>
<text x="175.9" y="1171.0" font-size="23" font-family='"Liberation Serif", serif' style="stroke-width:0.4px" textLength="12.9" lengthAdjust="spacingAndGlyphs">α</text>
<text x="189.2" y="1176.3" font-size="16" font-family='"Liberation Serif", serif' style="stroke-width:0.3px" textLength="8.2" lengthAdjust="spacingAndGlyphs">4</text>
<text x="223.5" y="1171.0" font-size="23.2" font-family='"Liberation Serif", serif' style="stroke-width:0.4px" textLength="24.7" lengthAdjust="spacingAndGlyphs">C2</text>
<text x="276.8" y="1171.0" font-size="20.3" font-family='"Liberation Serif", serif' style="stroke-width:0.3px" textLength="10.2" lengthAdjust="spacingAndGlyphs">β</text>
<text x="287.8" y="1176.3" font-size="16" font-family='"Liberation Serif", serif' style="stroke-width:0.3px">1</text>
<text x="327.9" y="1171.0" font-size="23" font-family='"Liberation Serif", serif' style="stroke-width:0.4px" textLength="13.3" lengthAdjust="spacingAndGlyphs">α</text>
<text x="341.2" y="1176.3" font-size="16" font-family='"Liberation Serif", serif' style="stroke-width:0.3px" textLength="10.6" lengthAdjust="spacingAndGlyphs">V</text>
<text x="380.7" y="1171.0" font-size="23" font-family='"Liberation Serif", serif' style="stroke-width:0.4px" textLength="13.5" lengthAdjust="spacingAndGlyphs">α</text>
<text x="394.6" y="1176.3" font-size="16" font-family='"Liberation Serif", serif' style="stroke-width:0.3px" textLength="8.2" lengthAdjust="spacingAndGlyphs">6</text>
<text x="436.9" y="1171.0" font-size="23.2" font-family='"Liberation Serif", serif' style="stroke-width:0.4px" textLength="14.4" lengthAdjust="spacingAndGlyphs">N</text>
</svg>
</body>
</html>
